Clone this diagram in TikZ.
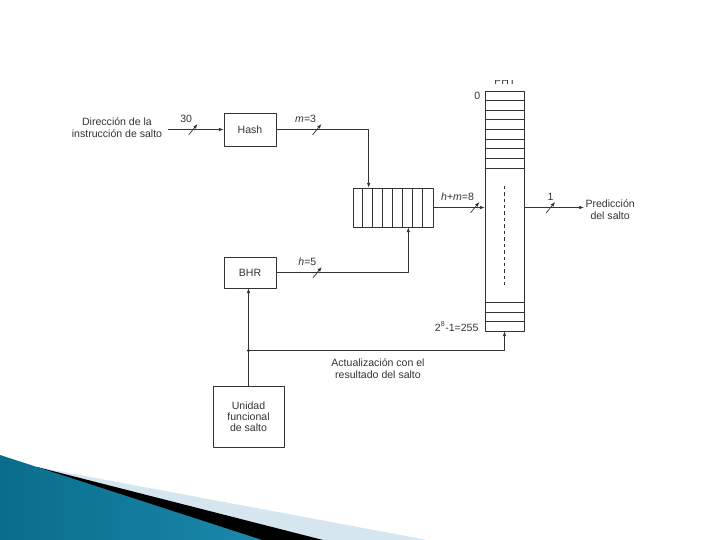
\documentclass[tikz,border=0pt]{standalone}
\usepackage{fontspec}
\setmainfont{Liberation Sans}
\usetikzlibrary{arrows.meta}
\definecolor{swA}{HTML}{0A6D8A}
\definecolor{swB}{HTML}{3DADD2}
\definecolor{swC}{HTML}{1A88AC}
\definecolor{swlight}{HTML}{D5E6EE}
\begin{document}
\begin{tikzpicture}[x=.03cm, y=-.03cm, font=\fontsize{9}{10.5}\selectfont, line join=round, >={Latex[length=4pt,width=3pt]}, color=black!80, line width=.6pt,
	blk/.style={draw, inner sep=1pt, align=center},
	slash/.style={minimum width=.27cm, minimum height=.33cm, inner sep=0, path picture={\draw[line width=.6pt] (path picture bounding box.south west)--(path picture bounding box.north east);}},
	busl/.style={anchor=south east, inner sep=.5pt}]
	\useasboundingbox (0,0) rectangle (720,540);
	% bottom left ornament
	\fill[swlight] (37,467)--(427,540)--(0,540)--cycle;
	\fill[black] (37,467)--(323,540)--(0,540)--cycle;
	\shade[left color=swA, middle color=swB, right color=swC] (0,455)--(262,540)--(0,540)--cycle;
	% blocks
	\node[align=center] (dir) at (117,128) {Dirección de la\\instrucción de salto};
	\node[blk, minimum width=1.56cm, minimum height=.99cm] (hash) at (250,129.5) {Hash};
	\node[blk, minimum width=1.56cm, minimum height=.93cm] (bhr) at (250,272.5) {BHR};
	\node[blk, minimum width=2.13cm, minimum height=1.83cm, font=\fontsize{9}{9.5}\selectfont] (uni) at (248.5,416.5) {Unidad\\funcional\\de salto};
	\node[draw, minimum width=2.4cm, minimum height=1.17cm, inner sep=0] (reg) at (393,207.5) {};
	\foreach \i in {1,...,7}
		\draw ([xshift=\i*.3cm]reg.north west)--([xshift=\i*.3cm]reg.south west);
	\node[draw, minimum width=1.17cm, minimum height=7.2cm, inner sep=0] (pht) at (504.5,211) {};
	\foreach \i in {1,...,8}
		\draw ([yshift=-\i*.29cm]pht.north west)--([yshift=-\i*.29cm]pht.north east);
	\foreach \i in {1,2,3}
		\draw ([yshift=\i*.29cm]pht.south west)--([yshift=\i*.29cm]pht.south east);
	\draw[dash pattern=on 3pt off 2.5pt] ([yshift=-2.85cm]pht.north)--([yshift=1.38cm]pht.south);
	\begin{scope}
		\clip (0,80.5) rectangle (720,540);
		\node (phtname) at (505,81) {PHT};
	\end{scope}
	\node[left, inner sep=3.5pt] (first) at ([yshift=-.145cm]pht.north west) {0};
	\node[left, inner sep=5pt] (last) at ([yshift=.145cm]pht.south west) {2\textsuperscript{8}-1=255};
	\node[align=center, anchor=west, inner sep=1pt] (pred) at (584,209.5) {Predicción\\del salto};
	% connections
	\coordinate (in) at (168,129.5);
	\draw[->] (in)--node[slash, pos=.45, label={[busl]90:30}]{} (in -| hash.west);
	\draw[->] (hash.east) -| node[slash, pos=.22, label={[busl]90:{\textit{m}=3}}]{} ([xshift=.48cm]reg.north west);
	\draw[->] (bhr.east) -| node[slash, pos=.155, label={[busl]90:{\textit{h}=5}}]{} ([xshift=-.75cm]reg.south east);
	\draw[->] (reg.east)--node[slash, pos=.81, label={[busl]90:{\textit{h}+\textit{m}=8}}]{} (reg.east -| pht.west);
	\draw[->] (pht.east |- reg.east)--node[slash, pos=.44, label={[inner sep=.5pt]90:1}]{} (pred.west |- reg.east);
	\draw[->] (uni.north)--(uni.north |- bhr.south);
	\coordinate (jrow) at (0,350.5);
	\coordinate (jn) at (uni.north |- jrow);
	\fill (jn) circle (1.3pt);
	\draw[->] (jn) -| (pht.south);
	\node[align=center] (upd) at (378,369) {Actualización con el\\resultado del salto};
\end{tikzpicture}
\end{document}
